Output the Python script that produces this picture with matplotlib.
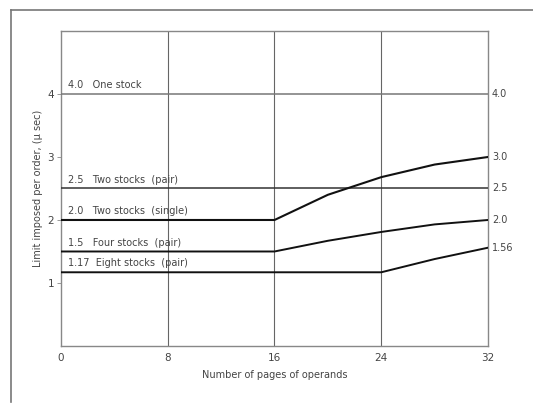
import matplotlib
matplotlib.use("Agg")
import matplotlib.pyplot as plt
from matplotlib.lines import Line2D

# Data
pages = [0, 8, 16, 20, 24, 28, 32]
one_stock = [4.0, 4.0, 4.0, 4.0, 4.0, 4.0, 4.0]
two_pair = [2.5, 2.5, 2.5, 2.5, 2.5, 2.5, 2.5]
two_single = [2.0, 2.0, 2.0, 2.4, 2.68, 2.88, 3.0]
four_pair = [1.5, 1.5, 1.5, 1.67, 1.81, 1.93, 2.0]
eight_pair = [1.17, 1.17, 1.17, 1.17, 1.17, 1.38, 1.56]

series = [
    (one_stock, "4.0   One stock", "#777777", 1.1),
    (two_pair, "2.5   Two stocks  (pair)", "#333333", 1.1),
    (two_single, "2.0   Two stocks  (single)", "#111111", 1.5),
    (four_pair, "1.5   Four stocks  (pair)", "#111111", 1.4),
    (eight_pair, "1.17  Eight stocks  (pair)", "#111111", 1.4),
]
right_labels = [(4.0, "4.0"), (3.0, "3.0"), (2.5, "2.5"), (2.0, "2.0"), (1.56, "1.56")]
xticks = [0, 8, 16, 24, 32]
yticks = [1, 2, 3, 4]

plt.rcParams['font.family'] = ['DejaVu Sans']
fig = plt.figure(figsize=(5.33, 4.04), dpi=100)
ax = fig.add_axes([0.1144, 0.1436, 0.8012, 0.7797])

txt = "#444444"
for x in [8, 16, 24]:
    ax.axvline(x, color="#666666", lw=0.8, zorder=1)
for ys, lab, col, lw in series:
    ax.plot(pages, ys, color=col, lw=lw, zorder=3)
    ax.text(0.5, ys[0] + 0.06, lab, fontsize=7, color=txt, ha="left", va="bottom")
for yv, lab in right_labels:
    ax.text(32.3, yv, lab, fontsize=7, color=txt, ha="left", va="center", clip_on=False)

ax.set_xlim(0, 32)
ax.set_ylim(0, 5)
ax.set_xticks(xticks)
ax.set_yticks(yticks)
ax.tick_params(axis="both", labelsize=7.5, colors="#888888", labelcolor=txt, length=3, width=0.6)
ax.tick_params(axis="x", length=0, pad=5)
ax.tick_params(axis="y", pad=2)
for s in ax.spines.values():
    s.set_color("#888888")
    s.set_linewidth(1.0)
ax.set_xlabel("Number of pages of operands", fontsize=7, color=txt, labelpad=5)
ax.set_ylabel("Limit imposed per order, (\u03bc sec)", fontsize=7, color=txt, labelpad=3)

# outer frame of the scanned figure
fig.add_artist(Line2D([11/533, 11/533], [1 - 402/404, 1 - 10/404], color="#777777", lw=1.2, transform=fig.transFigure))
fig.add_artist(Line2D([11/533, 1.0], [1 - 10/404, 1 - 10/404], color="#777777", lw=1.2, transform=fig.transFigure))

fig.savefig("out.png", dpi=100)
